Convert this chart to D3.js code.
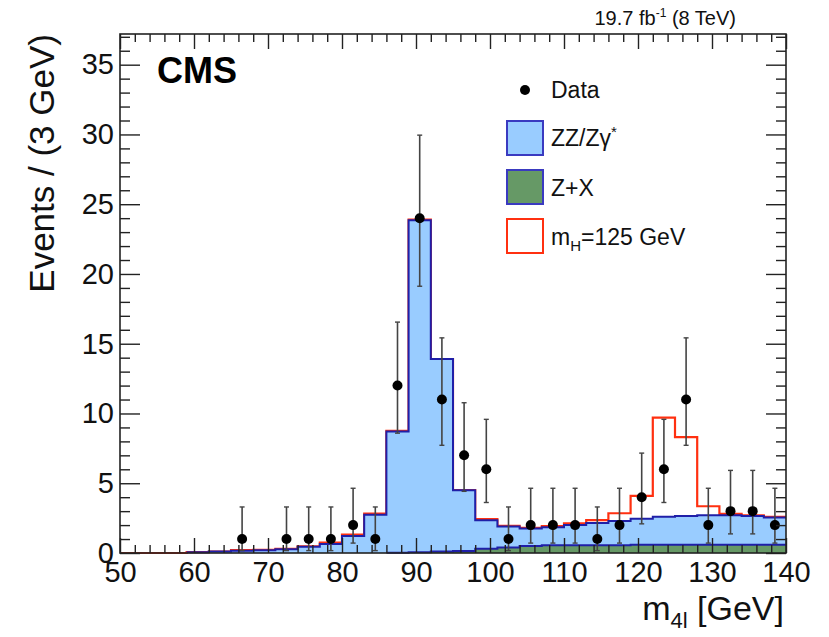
<!DOCTYPE html>
<html>
<head>
<meta charset="utf-8">
<script src="https://cdn.jsdelivr.net/npm/d3@7"></script>
<style>
  body { margin: 0; background: #fff; }
  svg { display: block; font-family: "Liberation Sans", Arial, Helvetica, sans-serif; }
</style>
</head>
<body>
<svg id="chart" width="829" height="637"></svg>
<script>
// CMS H -> ZZ -> 4l, m4l distribution, 3 GeV bins

// bin low edges (GeV), last bin ends at 140
const binLow = [50, 53, 56, 59, 62, 65, 68, 71, 74, 77, 80, 83, 86, 89, 92,
  95, 98, 101, 104, 107, 110, 113, 116, 119, 122, 125, 128, 131, 134, 137];
const binHigh = 140;

// backgrounds and signal, events per bin
const zxBkg = [0, 0, 0, 0, 0, 0, 0, 0, 0, 0, 0, 0, 0.02, 0.05, 0.1,
  0.15, 0.3, 0.4, 0.5, 0.55, 0.55, 0.55, 0.55, 0.6, 0.6, 0.6, 0.6, 0.6, 0.6, 0.6];
const zzBkg = [0, 0, 0, 0.06, 0.1, 0.17, 0.2, 0.27, 0.45, 0.65, 1.22, 2.75, 8.68, 23.8, 13.8,
  4.35, 2.05, 1.5, 1.25, 1.3, 1.45, 1.6, 1.75, 1.85, 2.0, 2.05, 2.1, 2.1, 2.05, 1.95];
const higgs = [0, 0, 0, 0, 0, 0.03, 0.03, 0.03, 0.03, 0.09, 0.09, 0.07, 0.05, 0.05, 0,
  0, 0.08, 0.05, 0.05, 0.08, 0.12, 0.2, 0.55, 1.65, 7.1, 5.65, 0.65, 0.1, 0.05, 0.05];

// observed events (bin centre, count, poisson errors)
const dataMass = [66.5, 72.5, 75.5, 78.5, 81.5, 84.5, 87.5, 90.5, 93.5, 96.5, 99.5, 102.5,
  105.5, 108.5, 111.5, 114.5, 117.5, 120.5, 123.5, 126.5, 129.5, 132.5, 135.5, 138.5];
const dataCount = [1, 1, 1, 1, 2, 1, 12, 24, 11, 7, 6, 1,
  2, 2, 2, 1, 2, 4, 6, 11, 2, 3, 3, 2];
const errDown = [0.83, 0.83, 0.83, 0.83, 1.29, 0.83, 3.41, 4.88, 3.28, 2.58, 2.38, 0.83,
  1.29, 1.29, 1.29, 0.83, 1.29, 1.91, 2.38, 3.28, 1.29, 1.63, 1.63, 1.29];
const errUp = [2.3, 2.3, 2.3, 2.3, 2.64, 2.3, 4.55, 5.95, 4.42, 3.77, 3.58, 2.3,
  2.64, 2.64, 2.64, 2.3, 2.64, 3.16, 3.58, 4.42, 2.64, 2.92, 2.92, 2.64];

const xMajor = [50, 60, 70, 80, 90, 100, 110, 120, 130, 140];
const yMajor = [0, 5, 10, 15, 20, 25, 30, 35];

const FRAME = { left: 120, right: 786, top: 34, bottom: 553 };
const ZZ_FILL = "#99ccff", ZX_FILL = "#669966", BLUE_LINE = "#1f1fa8", RED = "#ff3010";
const INK = "#222";

const svg = d3.select("#chart");

const x = d3.scaleLinear().domain([50, 140]).range([FRAME.left, FRAME.right]);
const y = d3.scaleLinear().domain([0, 37.2]).range([FRAME.bottom, FRAME.top]);

// stacked per-bin tops
const bins = binLow.map((lo, i) => ({
  lo,
  zx: zxBkg[i],
  bkg: zxBkg[i] + zzBkg[i],
  sig: zxBkg[i] + zzBkg[i] + higgs[i]
}));
const withEnd = arr => arr.concat([{ ...arr[arr.length - 1], lo: binHigh }]);

const plot = svg.append("g");

// signal (red outline)
const sigLine = d3.line().x(d => x(d.lo)).y(d => y(d.sig)).curve(d3.curveStepAfter);
plot.append("path")
  .datum(withEnd(bins))
  .attr("fill", "none")
  .attr("stroke", RED)
  .attr("stroke-width", 2.2)
  .attr("d", sigLine);

// ZZ background (filled, from first non-empty bin)
const bkgBins = withEnd(bins.filter(d => d.bkg > 0));
const bkgArea = d3.area().x(d => x(d.lo)).y0(y(0)).y1(d => y(d.bkg)).curve(d3.curveStepAfter);
plot.append("path")
  .datum(bkgBins)
  .attr("fill", ZZ_FILL)
  .attr("d", bkgArea);
plot.append("path")
  .datum(bkgBins)
  .attr("fill", "none")
  .attr("stroke", BLUE_LINE)
  .attr("stroke-width", 2)
  .attr("d", bkgArea.lineY1());

// Z+X background
const zxBins = withEnd(bins.filter(d => d.zx > 0));
const zxArea = d3.area().x(d => x(d.lo)).y0(y(0)).y1(d => y(d.zx)).curve(d3.curveStepAfter);
plot.append("path")
  .datum(zxBins)
  .attr("fill", ZX_FILL)
  .attr("d", zxArea);
plot.append("path")
  .datum(zxBins)
  .attr("fill", "none")
  .attr("stroke", BLUE_LINE)
  .attr("stroke-width", 2)
  .attr("d", zxArea.lineY1());

// data points with error bars
const pts = dataMass.map((m, i) => ({ m, n: dataCount[i], lo: dataCount[i] - errDown[i], hi: dataCount[i] + errUp[i] }));
const pg = plot.append("g").selectAll("g").data(pts).join("g");
pg.append("line")
  .attr("x1", d => x(d.m)).attr("x2", d => x(d.m))
  .attr("y1", d => y(d.lo)).attr("y2", d => y(d.hi))
  .attr("stroke", "#444").attr("stroke-width", 1.6);
pg.append("line")
  .attr("x1", d => x(d.m) - 2.5).attr("x2", d => x(d.m) + 2.5)
  .attr("y1", d => y(d.hi)).attr("y2", d => y(d.hi))
  .attr("stroke", "#444").attr("stroke-width", 1.4);
pg.append("line")
  .attr("x1", d => x(d.m) - 2.5).attr("x2", d => x(d.m) + 2.5)
  .attr("y1", d => y(d.lo)).attr("y2", d => y(d.lo))
  .attr("stroke", "#444").attr("stroke-width", 1.4);
pg.append("circle")
  .attr("cx", d => x(d.m)).attr("cy", d => y(d.n))
  .attr("r", 5).attr("fill", "#000");

// axes: ticks on all four sides, pointing inwards
const xMinor = d3.range(50, 141, 2).filter(v => v % 10 !== 0);
const yMinor = d3.range(0, 37.1, 1).filter(v => v % 5 !== 0);

function styleAxis(sel) {
  sel.select(".domain").remove();
  sel.selectAll(".tick line").attr("stroke", INK).attr("stroke-width", 1.4);
  sel.selectAll(".tick text").attr("fill", "#111").attr("font-size", 29).attr("font-family", null);
}

svg.append("g").attr("transform", `translate(0,${FRAME.bottom})`)
  .call(d3.axisBottom(x).tickValues(xMajor).tickSizeInner(-15).tickSizeOuter(0).tickPadding(8).tickFormat(d3.format("d")))
  .call(styleAxis);
svg.append("g").attr("transform", `translate(0,${FRAME.bottom})`)
  .call(d3.axisBottom(x).tickValues(xMinor).tickSizeInner(-8).tickSizeOuter(0).tickFormat(""))
  .call(styleAxis);
svg.append("g").attr("transform", `translate(0,${FRAME.top})`)
  .call(d3.axisTop(x).tickValues(xMajor).tickSizeInner(-15).tickSizeOuter(0).tickFormat(""))
  .call(styleAxis);
svg.append("g").attr("transform", `translate(0,${FRAME.top})`)
  .call(d3.axisTop(x).tickValues(xMinor).tickSizeInner(-8).tickSizeOuter(0).tickFormat(""))
  .call(styleAxis);

svg.append("g").attr("transform", `translate(${FRAME.left},0)`)
  .call(d3.axisLeft(y).tickValues(yMajor).tickSizeInner(-20).tickSizeOuter(0).tickPadding(6).tickFormat(d3.format("d")))
  .call(styleAxis);
svg.append("g").attr("transform", `translate(${FRAME.left},0)`)
  .call(d3.axisLeft(y).tickValues(yMinor).tickSizeInner(-10).tickSizeOuter(0).tickFormat(""))
  .call(styleAxis);
svg.append("g").attr("transform", `translate(${FRAME.right},0)`)
  .call(d3.axisRight(y).tickValues(yMajor).tickSizeInner(-20).tickSizeOuter(0).tickFormat(""))
  .call(styleAxis);
svg.append("g").attr("transform", `translate(${FRAME.right},0)`)
  .call(d3.axisRight(y).tickValues(yMinor).tickSizeInner(-10).tickSizeOuter(0).tickFormat(""))
  .call(styleAxis);

// frame
svg.append("rect")
  .attr("x", FRAME.left).attr("y", FRAME.top)
  .attr("width", FRAME.right - FRAME.left).attr("height", FRAME.bottom - FRAME.top)
  .attr("fill", "none").attr("stroke", INK).attr("stroke-width", 1.6);

// axis titles
const xt = svg.append("text")
  .attr("x", FRAME.right - 2).attr("y", 620)
  .attr("text-anchor", "end").attr("font-size", 34).attr("fill", "#111");
xt.append("tspan").text("m");
xt.append("tspan").attr("font-size", 22).attr("dy", 8).text("4l");
xt.append("tspan").attr("dy", -8).text(" [GeV]");

svg.append("text")
  .attr("transform", `translate(54,${FRAME.top}) rotate(-90)`)
  .attr("text-anchor", "end").attr("font-size", 35).attr("fill", "#111")
  .text("Events / (3 GeV)");

// CMS label and luminosity
svg.append("text")
  .attr("x", 157).attr("y", 83)
  .attr("font-size", 36).attr("font-weight", "bold").attr("fill", "#000")
  .text("CMS");

const lumi = svg.append("text")
  .attr("x", 736).attr("y", 25)
  .attr("text-anchor", "end").attr("font-size", 20).attr("fill", "#111");
lumi.append("tspan").text("19.7 fb");
lumi.append("tspan").attr("font-size", 12).attr("dy", -8).text("-1");
lumi.append("tspan").attr("dy", 8).text(" (8 TeV)");

// legend
const leg = svg.append("g").attr("font-size", 23).attr("fill", "#111");
leg.append("circle").attr("cx", 525).attr("cy", 90).attr("r", 5).attr("fill", "#000");
leg.append("text").attr("x", 551).attr("y", 98).text("Data");

const boxes = [
  { y: 121, fill: ZZ_FILL, stroke: "#3a3ac0" },
  { y: 170, fill: ZX_FILL, stroke: "#3a3ac0" },
  { y: 219, fill: "#fff", stroke: RED }
];
leg.selectAll("rect").data(boxes).join("rect")
  .attr("x", 507).attr("y", d => d.y).attr("width", 36).attr("height", 34)
  .attr("fill", d => d.fill).attr("stroke", d => d.stroke).attr("stroke-width", 2);

const t1 = leg.append("text").attr("x", 551).attr("y", 146);
t1.append("tspan").text("ZZ/Zγ");
t1.append("tspan").attr("font-size", 15).attr("dy", -9).text("*");
leg.append("text").attr("x", 551).attr("y", 196).text("Z+X");
const t3 = leg.append("text").attr("x", 551).attr("y", 245);
t3.append("tspan").text("m");
t3.append("tspan").attr("font-size", 15).attr("dy", 6).text("H");
t3.append("tspan").attr("dy", -6).text("=125 GeV");
</script>
</body>
</html>
